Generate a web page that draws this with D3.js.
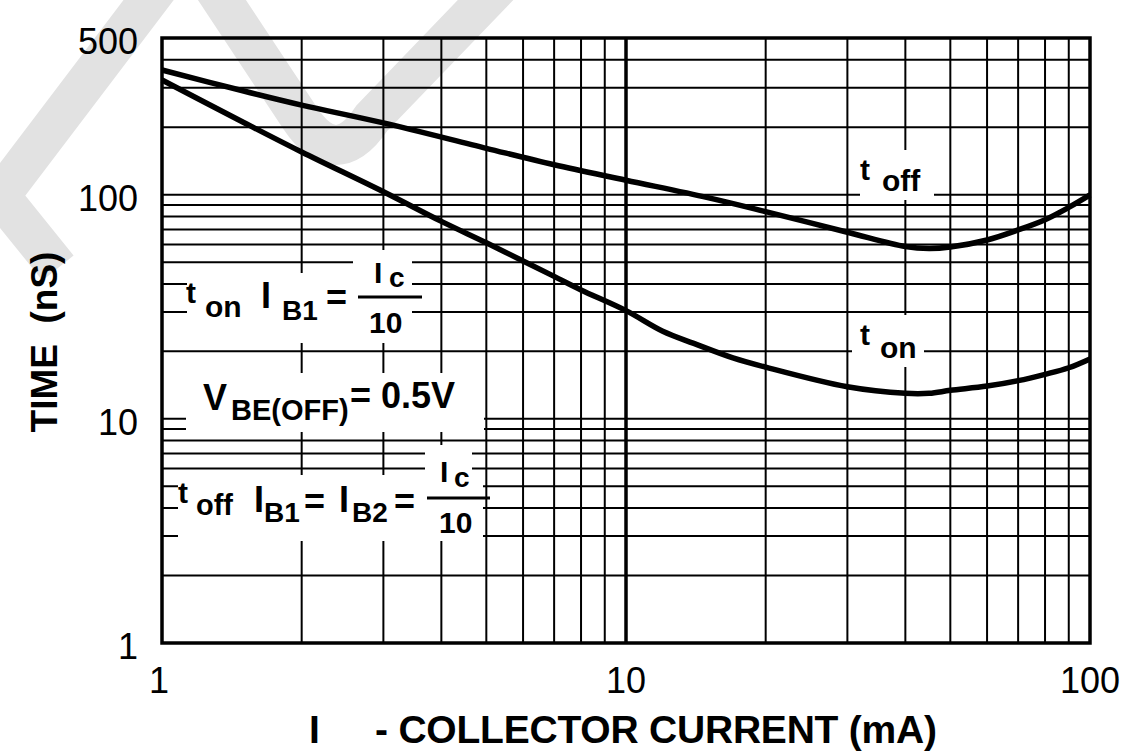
<!DOCTYPE html>
<html>
<head>
<meta charset="utf-8">
<script src="https://cdn.jsdelivr.net/npm/d3@7"></script>
<style>
  body { margin: 0; background: #fff; }
  svg { display: block; }
  text { font-family: "Liberation Sans", Arial, sans-serif; fill: #000; }
</style>
</head>
<body>
<div id="chart"></div>
<script>
// collector current (mA) and switching times (nS)
var offCurrent = [1, 1.5, 2, 3, 5, 7, 10, 15, 20, 30, 40, 45, 50, 60, 70, 80, 90, 100];
var tOff       = [360, 290, 251, 209, 161, 136, 116, 97, 84, 68, 58.7, 57.5, 58.4, 62.8, 69.6, 77.3, 87.7, 99.7];

var onCurrent = [1, 1.5, 2, 3, 4, 5, 6, 7, 8, 10, 12, 14, 17, 20, 30, 40, 45, 50, 60, 70, 80, 90, 100];
var tOn       = [325, 210, 155, 103, 76, 61, 50.6, 43.2, 37.6, 30.4, 24.6, 21.7, 18.7, 17.0, 13.9, 13.0, 13.0, 13.4, 14.0, 14.8, 15.8, 16.9, 18.5];

var xGrid = [2, 3, 4, 5, 6, 7, 8, 9, 10, 20, 30, 40, 50, 60, 70, 80, 90];
var yGrid = [2, 3, 4, 5, 6, 7, 8, 9, 10, 20, 30, 40, 50, 60, 70, 80, 90, 100, 200, 300, 400];
var xTicks = [1, 10, 100];
var yTicks = [1, 10, 100, 500];

var W = 1132, H = 754;
var margin = {top: 38, left: 162, bottom: 111, right: 42};

var x = d3.scaleLog().domain([1, 100]).range([margin.left, W - margin.right]);
var y = d3.scaleLog().domain([1, 500]).range([H - margin.bottom, margin.top]);

var svg = d3.select("#chart").append("svg")
  .attr("width", W)
  .attr("height", H);

svg.append("rect").attr("width", W).attr("height", H).attr("fill", "#fff");

// faint watermark behind the grid
var wm = svg.append("g")
  .attr("fill", "none")
  .attr("stroke", "#e2e2e2")
  .attr("stroke-width", 40);
wm.append("path")
  .attr("d", "M160,-15 L0,196 L58,268")
  .attr("stroke-linejoin", "miter");
wm.append("path")
  .attr("d", "M212,-15 L300,118 Q336,172 372,118 L500,-15")
  .attr("stroke-linejoin", "round");

// grid
var grid = svg.append("g").attr("stroke", "#000");
grid.selectAll("line.v")
  .data(xGrid)
  .enter().append("line")
  .attr("class", "v")
  .attr("x1", function(d) { return x(d); })
  .attr("x2", function(d) { return x(d); })
  .attr("y1", y(500))
  .attr("y2", y(1))
  .attr("stroke-width", function(d) { return d == 10 ? 3.5 : 2; });

grid.selectAll("line.h")
  .data(yGrid)
  .enter().append("line")
  .attr("class", "h")
  .attr("x1", x(1))
  .attr("x2", x(100))
  .attr("y1", function(d) { return y(d); })
  .attr("y2", function(d) { return y(d); })
  .attr("stroke-width", 2);

// white boxes behind the annotations
var masks = [
  [860, 150, 934, 200],
  [852, 315, 924, 367],
  [187, 273, 353, 343],
  [353, 250, 412, 343],
  [186, 373, 484, 432],
  [178, 475, 483, 541],
  [425, 445, 472, 475]
];
svg.append("g").selectAll("rect")
  .data(masks)
  .enter().append("rect")
  .attr("x", function(d) { return d[0]; })
  .attr("y", function(d) { return d[1]; })
  .attr("width", function(d) { return d[2] - d[0]; })
  .attr("height", function(d) { return d[3] - d[1]; })
  .attr("fill", "#fff");

// frame
svg.append("rect")
  .attr("x", x(1))
  .attr("y", y(500))
  .attr("width", x(100) - x(1))
  .attr("height", y(1) - y(500))
  .attr("fill", "none")
  .attr("stroke", "#000")
  .attr("stroke-width", 3.5);

// curves
var line = d3.line()
  .x(function(d) { return x(d[0]); })
  .y(function(d) { return y(d[1]); })
  .curve(d3.curveCatmullRom.alpha(0.5));

var series = [d3.zip(offCurrent, tOff), d3.zip(onCurrent, tOn)];

svg.append("g").selectAll("path")
  .data(series)
  .enter().append("path")
  .attr("d", line)
  .attr("fill", "none")
  .attr("stroke", "#000")
  .attr("stroke-width", 5.5);

// tick labels
svg.append("g").selectAll("text")
  .data(yTicks)
  .enter().append("text")
  .attr("x", x(1) - 24)
  .attr("y", function(d) { return y(d) + 16; })
  .attr("text-anchor", "end")
  .style("font-size", "36px")
  .text(function(d) { return d; });

svg.append("g").selectAll("text")
  .data(xTicks)
  .enter().append("text")
  .attr("x", function(d) { return x(d) - (d == 1 ? 3 : 0); })
  .attr("y", y(1) + 50)
  .attr("text-anchor", "middle")
  .style("font-size", "36px")
  .text(function(d) { return d; });

// axis titles
svg.append("text")
  .attr("transform", "translate(57," + 342 + ") rotate(-90)")
  .attr("text-anchor", "middle")
  .style("font-size", "37px")
  .style("font-weight", "700")
  .text("TIME\u00a0\u00a0(nS)");

svg.append("text")
  .attr("x", 309).attr("y", 743)
  .style("font-size", "39px").style("font-weight", "700")
  .text("I");
svg.append("text")
  .attr("x", 375).attr("y", 743)
  .attr("textLength", 562)
  .style("font-size", "39px").style("font-weight", "700")
  .text("- COLLECTOR CURRENT (mA)");

// annotations
function txt(px, py, s, size) {
  return svg.append("text")
    .attr("x", px).attr("y", py)
    .style("font-size", size + "px")
    .style("font-weight", "700")
    .text(s);
}
function bar(x1, x2, py) {
  svg.append("line")
    .attr("x1", x1).attr("x2", x2)
    .attr("y1", py).attr("y2", py)
    .attr("stroke", "#000").attr("stroke-width", 3);
}

txt(860, 180, "t", 30);
txt(882, 191, "off", 30);

txt(860, 345, "t", 30);
txt(880, 358, "on", 30);

txt(186, 303, "t", 30);
txt(205, 317, "on", 30);
txt(261, 308, "I", 36);
txt(282, 320, "B1", 28);
txt(326, 310, "=", 36);
bar(358, 422, 297);
txt(374, 283, "I", 30);
txt(389, 287, "c", 28);
txt(369, 333, "10", 30);

txt(203, 410, "V", 36);
txt(231, 420, "BE(OFF)", 29);
txt(350, 408, "= 0.5V", 36);

txt(178, 503, "t", 30);
txt(196, 515, "off", 29);
txt(254, 512, "I", 36);
txt(264, 522, "B1", 28);
txt(304, 514, "=", 36);
txt(339, 512, "I", 36);
txt(352, 522, "B2", 28);
txt(394, 514, "=", 36);
bar(427, 490, 498);
txt(440, 482, "I", 30);
txt(454, 487, "c", 28);
txt(439, 533, "10", 30);
</script>
</body>
</html>
